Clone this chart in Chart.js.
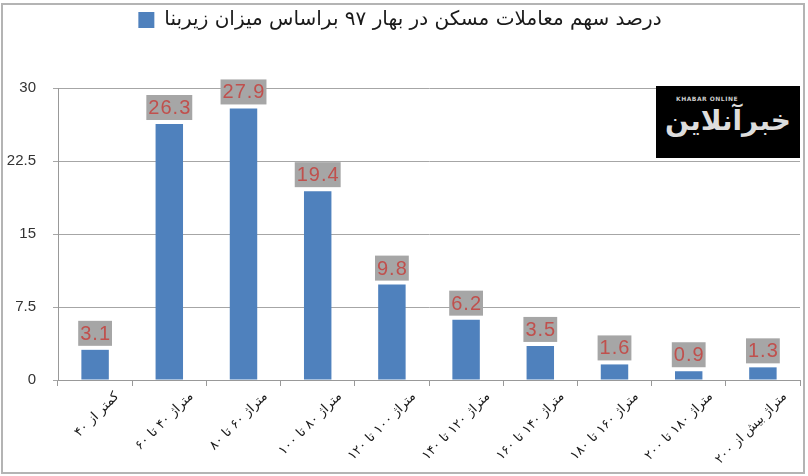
<!DOCTYPE html>
<html>
<head>
<meta charset="utf-8">
<script src="https://cdn.jsdelivr.net/npm/chart.js@4.4.1/dist/chart.umd.min.js"></script>
<style>
  body { margin: 0; background: #fff; }
  #wrap { position: relative; width: 808px; height: 476px; }
  #frame { position: absolute; left: 1px; top: 3px; width: 800px; height: 467px; border: 2px solid #b4b4b4; pointer-events: none; }
  #logo { position: absolute; left: 656px; top: 86px; width: 144px; height: 72px; background: #000; color: #fff; overflow: hidden; }
  #logo .en { position: absolute; left: 20px; top: 9px; font: bold 6px "DejaVu Sans", sans-serif; color: #ccc; letter-spacing: 0.5px; }
  #logo .fa { position: absolute; left: 0; right: 0; top: 18px; text-align: center; font: bold 28px "DejaVu Sans", sans-serif; color: #ddd; }
</style>
</head>
<body>
<div id="wrap">
  <canvas id="shareChart" width="808" height="476"></canvas>
  <div id="frame"></div>
  <div id="logo"><span class="en">KHABAR ONLINE</span><div class="fa">خبرآنلاین</div></div>
</div>
<script>
const seriesName = 'درصد سهم معاملات مسکن در بهار ۹۷ براساس میزان زیربنا';
const areaRanges = [
    'کمتر از ۴۰',
    'متراژ ۴۰ تا ۶۰',
    'متراژ ۶۰ تا ۸۰',
    'متراژ ۸۰ تا ۱۰۰',
    'متراژ ۱۰۰ تا ۱۲۰',
    'متراژ ۱۲۰ تا ۱۴۰',
    'متراژ ۱۴۰ تا ۱۶۰',
    'متراژ ۱۶۰ تا ۱۸۰',
    'متراژ ۱۸۰ تا ۲۰۰',
    'متراژ بیش از ۲۰۰'
];
const shares = [3.1, 26.3, 27.9, 19.4, 9.8, 6.2, 3.5, 1.6, 0.9, 1.3];
const yTicks = [0, 7.5, 15, 22.5, 30];

// value boxes above each bar (grey box, red number)
const valueLabels = {
    id: 'valueLabels',
    afterDatasetsDraw(chart) {
        const ctx = chart.ctx;
        const meta = chart.getDatasetMeta(0);
        ctx.save();
        ctx.font = '20px "Liberation Sans"';
        ctx.letterSpacing = '1px';
        ctx.textAlign = 'center';
        ctx.textBaseline = 'middle';
        meta.data.forEach((bar, i) => {
            const txt = shares[i].toFixed(1);
            const w = ctx.measureText(txt).width + 3;
            const h = 25;
            const bottom = bar.y - 4;
            ctx.fillStyle = '#a6a6a6';
            ctx.fillRect(bar.x - w / 2, bottom - h, w, h);
            ctx.fillStyle = '#c0504d';
            ctx.fillText(txt, bar.x + 0.5, bottom - h / 2 + 1);
        });
        ctx.restore();
    }
};

// leave extra room under the legend, like the original
const legendGap = {
    id: 'legendGap',
    beforeInit(chart) {
        const fit = chart.legend.fit;
        chart.legend.fit = function () {
            fit.call(this);
            this.height += 48;
        };
    }
};

new Chart(document.getElementById('shareChart'), {
    type: 'bar',
    data: {
        labels: areaRanges,
        datasets: [{
            label: seriesName,
            data: shares,
            backgroundColor: '#4f81bd',
            borderWidth: 0,
            barPercentage: 0.37,
            categoryPercentage: 1
        }]
    },
    options: {
        responsive: false,
        animation: false,
        layout: { padding: { left: 0, right: 8, top: 0, bottom: 0 } },
        plugins: {
            legend: {
                display: true,
                position: 'top',
                labels: {
                    boxWidth: 16,
                    boxHeight: 16,
                    padding: 10,
                    color: '#1a1a1a',
                    font: { family: '"DejaVu Sans"', size: 20 }
                }
            },
            tooltip: { enabled: false }
        },
        scales: {
            x: {
                grid: { display: true, drawOnChartArea: false, offset: true, tickLength: 6, color: '#999' },
                border: { color: '#999' },
                ticks: {
                    maxRotation: 45,
                    minRotation: 45,
                    labelOffset: 22,
                    padding: 3,
                    color: '#1a1a1a',
                    font: { family: '"DejaVu Sans"', size: 13 }
                },
                afterFit: s => { s.height = 96; }
            },
            y: {
                min: 0,
                max: 30,
                afterBuildTicks: s => { s.ticks = yTicks.map(v => ({ value: v })); },
                grid: { color: '#a6a6a6', tickLength: 5 },
                border: { color: '#999' },
                ticks: {
                    padding: 17,
                    color: '#333',
                    font: { family: '"Liberation Sans"', size: 15 }
                },
                afterFit: s => { s.width = 58; }
            }
        }
    },
    plugins: [valueLabels, legendGap]
});
</script>
</body>
</html>
